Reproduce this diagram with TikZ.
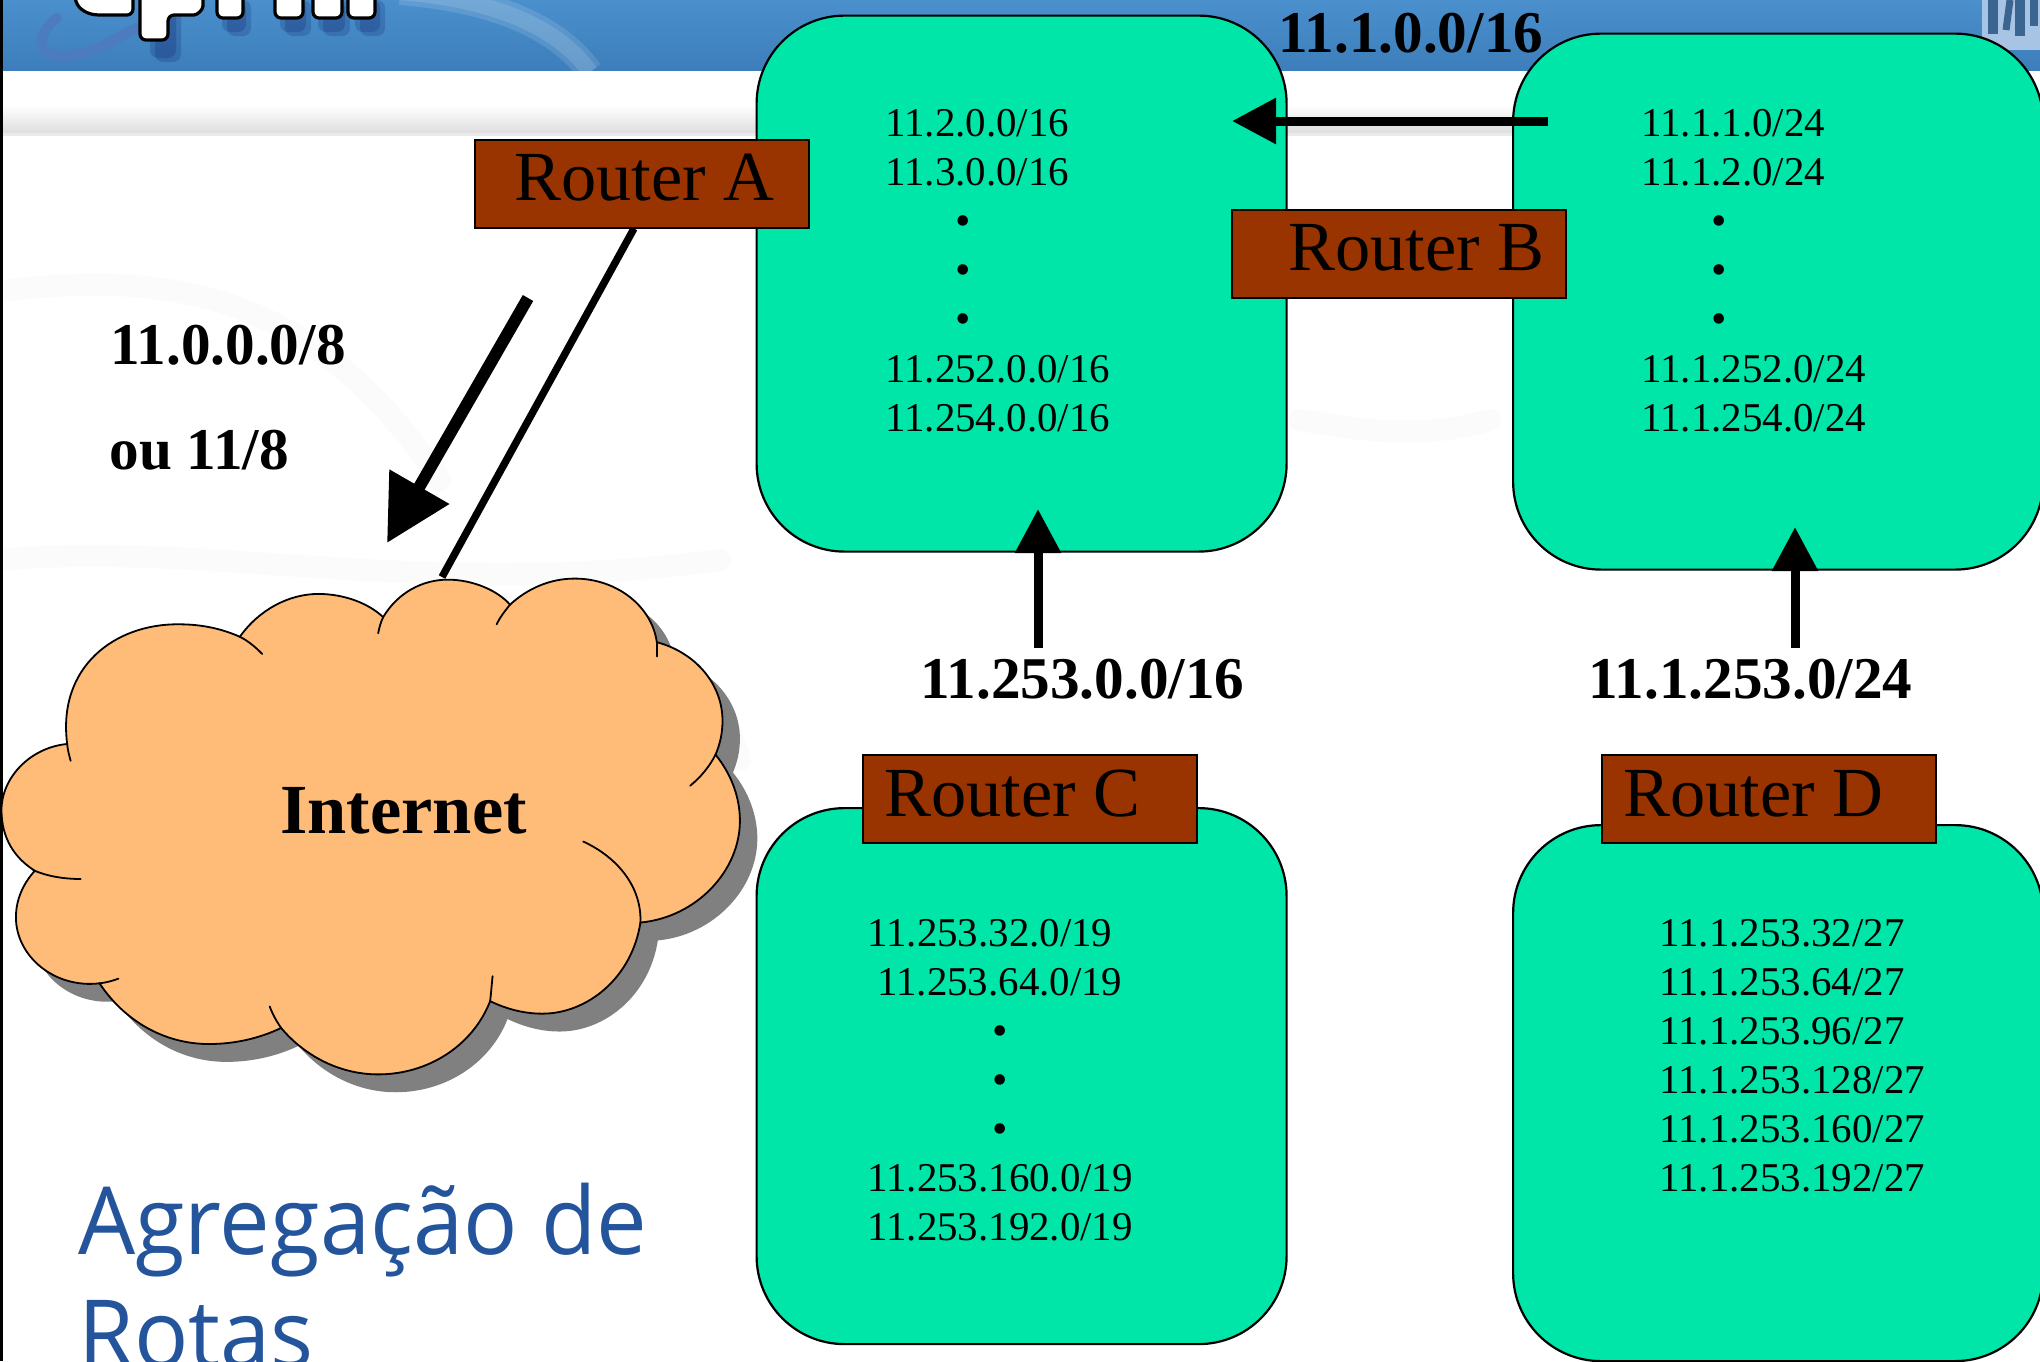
\documentclass[tikz,border=0pt]{standalone}
\usepackage{fontspec}
\setmainfont{Liberation Serif}
\newfontfamily\titlefont[FakeStretch=0.96]{Open Sans}
\usetikzlibrary{arrows.meta}
\definecolor{netgreen}{HTML}{00E6A9}
\definecolor{routerbrown}{HTML}{993300}
\definecolor{cloudfill}{HTML}{FFBB78}
\definecolor{titleblue}{HTML}{24559C}
\definecolor{headertop}{HTML}{4A90CC}
\definecolor{headerbot}{HTML}{3C7EBB}
\definecolor{swooshblue}{HTML}{4D7BC0}
\definecolor{marklight}{HTML}{A8C4E4}
\definecolor{markdark}{HTML}{3A6590}
\tikzset{
  x=0.5pt,y=-0.5pt,
  netbox/.style={draw=black,line width=1.1pt,fill=netgreen,rounded corners=44pt,minimum width=265pt,minimum height=268pt,inner sep=0pt,anchor=north west},
  routerbox/.style={draw=black,line width=1pt,fill=routerbrown,minimum width=167pt,minimum height=44pt,inner sep=0pt,anchor=north west},
  routertext/.style={anchor=base west,inner sep=0pt,font=\fontsize{35.2}{35}\selectfont},
  netlabel/.style={anchor=base west,inner sep=0pt,font=\fontsize{20.45}{20}\selectfont},
  netdot/.style={anchor=base,inner sep=0pt,font=\fontsize{22}{20}\selectfont},
  boldprefix/.style={anchor=base west,inner sep=0pt,font=\fontsize{29.6}{29}\selectfont\bfseries},
  bigarrow/.style={line width=4.5pt,-{Triangle[length=22pt,width=22pt]}},
  thickarrow/.style={line width=6pt,-{Triangle[length=32.5pt,width=33pt]}},
  cloudline/.style={draw=black,line width=0.9pt,line cap=round},
  logoglyph/.style={fill=white,draw=black,line width=1.6pt,rounded corners=3pt},
  logoshade/.style={fill=black!70!blue,opacity=0.16,rounded corners=4pt},
  watermark/.style={draw=black!1.5,line width=11pt,line cap=round},
}
\newcommand{\cloudoutline}{(135,515) .. controls (115,300) and (230,178) .. (360,180)
  .. controls (410,180) and (450,195) .. (482,215)
  .. controls (520,140) and (580,95) .. (640,95)
  .. controls (690,95) and (740,120) .. (770,160)
  .. controls (800,90) and (850,55) .. (900,55)
  .. controls (950,55) and (1000,85) .. (1025,125)
  .. controls (1060,80) and (1105,52) .. (1155,52)
  .. controls (1240,52) and (1310,130) .. (1320,230)
  .. controls (1400,260) and (1452,350) .. (1452,450)
  .. controls (1452,485) and (1447,515) .. (1438,545)
  .. controls (1470,600) and (1487,665) .. (1487,730)
  .. controls (1487,870) and (1400,1000) .. (1287,1015)
  .. controls (1270,1170) and (1180,1270) .. (1090,1270)
  .. controls (1050,1270) and (1015,1255) .. (985,1235)
  .. controls (950,1360) and (860,1440) .. (760,1440)
  .. controls (680,1440) and (610,1385) .. (565,1310)
  .. controls (520,1340) and (470,1355) .. (420,1355)
  .. controls (330,1355) and (250,1290) .. (200,1185)
  .. controls (110,1200) and (32,1110) .. (32,1000)
  .. controls (32,950) and (47,905) .. (70,870)
  .. controls (30,835) and (3,780) .. (3,700)
  .. controls (3,610) and (60,525) .. (135,515) -- cycle}
\begin{document}
\begin{tikzpicture}
\useasboundingbox (0,0) rectangle (2040,1361);
\clip (0,0) rectangle (2040,1361);
% slide background
\fill[white] (0,0) rectangle (2040,1361);
\draw[watermark] (10,290) .. controls (180,270) and (320,300) .. (440,480);
\draw[watermark] (0,560) .. controls (200,540) and (420,600) .. (720,560);
\draw[watermark] (560,700) .. controls (620,640) and (700,640) .. (740,760);
\draw[watermark] (1300,420) .. controls (1360,430) and (1420,440) .. (1490,420);
\fill[top color=white,bottom color=black!13] (0,105) rectangle (2040,133);
\fill[black!8] (0,133) rectangle (2040,136);
\fill[top color=headertop,bottom color=headerbot] (0,0) rectangle (2040,70);
% header ornaments
\draw[line width=13pt,white,opacity=0.12] (400,-8) .. controls (500,0) and (560,30) .. (590,72);
\draw[line width=8pt,white,opacity=0.12] (400,-8) .. controls (500,0) and (560,30) .. (590,72);
\draw[line width=5pt,swooshblue,line cap=round] (57,18) .. controls (35,35) and (35,58) .. (67,56) .. controls (95,54) and (115,38) .. (137,28);
\foreach \xa/\xb/\yb in {222/246/32,280/306/32,318/345/32,355/380/32,150/176/58}{
  \fill[logoshade] (\xa,0) rectangle (\xb,\yb);
  \fill[logoshade] (\xa+5,0) rectangle (\xb+5,\yb+4);
}
\draw[logoglyph] (75,-30) -- (75,2) .. controls (85,14) and (95,15) .. (105,15) -- (133,15) -- (133,-30) -- cycle;
\draw[logoglyph] (140,-30) -- (140,40) -- (168,40) -- (168,15) -- (188,15) .. controls (197,15) and (203,10) .. (203,0) -- (203,-30) -- cycle;
\draw[logoglyph] (217,-30) rectangle (243,18);
\draw[logoglyph] (275,-30) rectangle (303,18);
\draw[logoglyph] (313,-30) rectangle (342,18);
\draw[logoglyph] (348,-30) rectangle (375,18);
% university mark, upper right
\fill[marklight] (1982,0) rectangle (2040,50);
\draw[line width=5pt,markdark] (1993,0) -- (1993,34);
\draw[line width=3.5pt,markdark] (2010,0) -- (2006,30);
\draw[line width=5pt,markdark] (2020,0) -- (2020,36);
\draw[line width=4pt,markdark] (2034,0) -- (2034,26);
% slide left edge
\fill[black] (0,0) rectangle (3,1361);

% address blocks
\node[netbox] (na) at (755.5,14.5) {};
\node[netbox] (nb) at (1512,32.5) {};
\node[netbox] (nc) at (755.5,807) {};
\node[netbox] (nd) at (1512,824) {};

% addresses of A
\node[netlabel] (a1) at (885,136) {11.2.0.0/16};
\node[netlabel] (a2) at (885,185) {11.3.0.0/16};
\node[netdot] (a3) at (963,235) {•};
\node[netdot] (a4) at (963,284) {•};
\node[netdot] (a5) at (963,333) {•};
\node[netlabel] (a6) at (885,382) {11.252.0.0/16};
\node[netlabel] (a7) at (885,431) {11.254.0.0/16};
% addresses of B
\node[netlabel] (b1) at (1641,136) {11.1.1.0/24};
\node[netlabel] (b2) at (1641,185) {11.1.2.0/24};
\node[netdot] (b3) at (1719,235) {•};
\node[netdot] (b4) at (1719,284) {•};
\node[netdot] (b5) at (1719,333) {•};
\node[netlabel] (b6) at (1641,382) {11.1.252.0/24};
\node[netlabel] (b7) at (1641,431) {11.1.254.0/24};
% addresses of C
\node[netlabel] (c1) at (867,946) {11.253.32.0/19};
\node[netlabel] (c2) at (877,995) {11.253.64.0/19};
\node[netdot] (c3) at (1000,1045) {•};
\node[netdot] (c4) at (1000,1094) {•};
\node[netdot] (c5) at (1000,1143) {•};
\node[netlabel] (c6) at (867,1191) {11.253.160.0/19};
\node[netlabel] (c7) at (867,1240) {11.253.192.0/19};
% addresses of D
\node[netlabel] (d1) at (1659,946) {11.1.253.32/27};
\node[netlabel] (d2) at (1659,995) {11.1.253.64/27};
\node[netlabel] (d3) at (1659,1044) {11.1.253.96/27};
\node[netlabel] (d4) at (1659,1093) {11.1.253.128/27};
\node[netlabel] (d5) at (1659,1142) {11.1.253.160/27};
\node[netlabel] (d6) at (1659,1191) {11.1.253.192/27};

% cloud with its shadow
\begin{scope}[yshift=-280pt,x=0.2488pt,y=-0.1786pt]
  \fill[black!50,shift={(35,50)}] \cloudoutline;
  \path[fill=cloudfill,draw=black,line width=0.9pt] \cloudoutline;
  \draw[cloudline] (482,215) .. controls (497,225) and (513,243) .. (527,263);
  \draw[cloudline] (770,160) .. controls (765,175) and (762,190) .. (760,205);
  \draw[cloudline] (1025,125) .. controls (1015,142) and (1005,160) .. (998,180);
  \draw[cloudline] (1320,230) -- (1320,270);
  \draw[cloudline] (1438,545) .. controls (1425,580) and (1408,608) .. (1387,632);
  \draw[cloudline] (1172,788) .. controls (1245,835) and (1290,920) .. (1287,1015);
  \draw[cloudline] (990,1165) .. controls (988,1190) and (987,1212) .. (985,1235);
  \draw[cloudline] (565,1310) .. controls (556,1292) and (548,1272) .. (542,1250);
  \draw[cloudline] (200,1185) .. controls (214,1183) and (226,1178) .. (238,1172);
  \draw[cloudline] (70,870) .. controls (95,885) and (128,893) .. (162,893);
  \draw[cloudline] (135,515) .. controls (136,532) and (139,547) .. (142,562);
\end{scope}
\node[anchor=base west,inner sep=0pt,font=\fontsize{35.2}{35}\selectfont\bfseries] (inet) at (280,833) {Internet};

% routers
\node[routerbox] (ra) at (474,138.5) {};
\node[routerbox] (rb) at (1231,208.5) {};
\node[routerbox] (rc) at (861.5,754) {};
\node[routerbox] (rd) at (1600.5,754) {};
\node[routertext] (rat) at (514,200) {Router A};
\node[routertext] (rbt) at (1288,270) {Router B};
\node[routertext] (rct) at (884,816) {Router C};
\node[routertext] (rdt) at (1623,816) {Router D};

% announcements
\node[boldprefix] (p1) at (110,364.5) {11.0.0.0/8};
\node[boldprefix] (p2) at (109,469.5) {ou 11/8};
\node[boldprefix] (p3) at (1278,52) {11.1.0.0/16};
\node[boldprefix] (p4) at (920,698.5) {11.253.0.0/16};
\node[boldprefix] (p5) at (1588,698.5) {11.1.253.0/24};

% connectors
\coordinate (cloudtop) at (442,577);
\coordinate (aout) at (528,298);
\coordinate (aoutend) at (387,543);
\coordinate (bout) at (1548,121);
\coordinate (boutend) at (1232,121);
\coordinate (cout) at (1038,648);
\coordinate (coutend) at (1038,509);
\coordinate (dout) at (1795,648);
\coordinate (doutend) at (1795,527);
\draw[line width=3.7pt] ([xshift=-4pt]ra.south) -- (cloudtop);
\draw[thickarrow] (aout) -- (aoutend);
\draw[bigarrow] (bout) -- (boutend);
\draw[bigarrow] (cout) -- (coutend);
\draw[bigarrow] (dout) -- (doutend);

% title
\node[anchor=base west,inner sep=0pt,text=titleblue,font=\titlefont\fontsize{47}{47}\selectfont] (t1) at (78,1254) {Agregação de};
\node[anchor=base west,inner sep=0pt,text=titleblue,font=\titlefont\fontsize{47}{47}\selectfont] (t2) at (78,1367) {Rotas};
\end{tikzpicture}
\end{document}
